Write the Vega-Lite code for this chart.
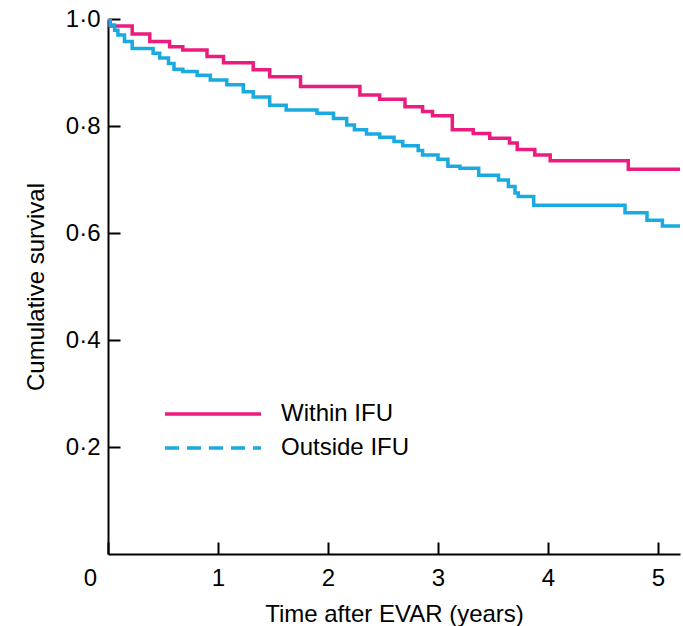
{
  "$schema": "https://vega.github.io/schema/vega-lite/v6.json",
  "width": 572,
  "height": 535,
  "autosize": {"type": "none"},
  "padding": {"left": 108, "top": 19, "right": 3, "bottom": 72},
  "background": "white",
  "config": {
    "view": {"stroke": null},
    "font": "Liberation Sans"
  },
  "data": {
    "values": [
      {"group": "Within IFU", "t": 0, "s": 1.0},
      {"group": "Within IFU", "t": 0.02, "s": 0.987},
      {"group": "Within IFU", "t": 0.22, "s": 0.972},
      {"group": "Within IFU", "t": 0.38, "s": 0.958},
      {"group": "Within IFU", "t": 0.56, "s": 0.948},
      {"group": "Within IFU", "t": 0.68, "s": 0.942},
      {"group": "Within IFU", "t": 0.9, "s": 0.93},
      {"group": "Within IFU", "t": 1.05, "s": 0.918},
      {"group": "Within IFU", "t": 1.32, "s": 0.905},
      {"group": "Within IFU", "t": 1.47, "s": 0.892},
      {"group": "Within IFU", "t": 1.75, "s": 0.874},
      {"group": "Within IFU", "t": 2.29, "s": 0.858},
      {"group": "Within IFU", "t": 2.47, "s": 0.85},
      {"group": "Within IFU", "t": 2.7, "s": 0.836},
      {"group": "Within IFU", "t": 2.86, "s": 0.827},
      {"group": "Within IFU", "t": 2.95, "s": 0.819},
      {"group": "Within IFU", "t": 3.13, "s": 0.793},
      {"group": "Within IFU", "t": 3.32, "s": 0.786},
      {"group": "Within IFU", "t": 3.47, "s": 0.777},
      {"group": "Within IFU", "t": 3.65, "s": 0.768},
      {"group": "Within IFU", "t": 3.72, "s": 0.756},
      {"group": "Within IFU", "t": 3.88, "s": 0.746},
      {"group": "Within IFU", "t": 4.02, "s": 0.735},
      {"group": "Within IFU", "t": 4.73, "s": 0.719},
      {"group": "Within IFU", "t": 5.2, "s": 0.719},
      {"group": "Outside IFU", "t": 0, "s": 1.0},
      {"group": "Outside IFU", "t": 0.02, "s": 0.989},
      {"group": "Outside IFU", "t": 0.06, "s": 0.979},
      {"group": "Outside IFU", "t": 0.09, "s": 0.97},
      {"group": "Outside IFU", "t": 0.15, "s": 0.958},
      {"group": "Outside IFU", "t": 0.22, "s": 0.945},
      {"group": "Outside IFU", "t": 0.41, "s": 0.936},
      {"group": "Outside IFU", "t": 0.47, "s": 0.927},
      {"group": "Outside IFU", "t": 0.55, "s": 0.917},
      {"group": "Outside IFU", "t": 0.6, "s": 0.906},
      {"group": "Outside IFU", "t": 0.68, "s": 0.902},
      {"group": "Outside IFU", "t": 0.81, "s": 0.895},
      {"group": "Outside IFU", "t": 0.93, "s": 0.886},
      {"group": "Outside IFU", "t": 1.08, "s": 0.877},
      {"group": "Outside IFU", "t": 1.23, "s": 0.864},
      {"group": "Outside IFU", "t": 1.32, "s": 0.854},
      {"group": "Outside IFU", "t": 1.47, "s": 0.839},
      {"group": "Outside IFU", "t": 1.62, "s": 0.83},
      {"group": "Outside IFU", "t": 1.9, "s": 0.824},
      {"group": "Outside IFU", "t": 2.05, "s": 0.814},
      {"group": "Outside IFU", "t": 2.17, "s": 0.802},
      {"group": "Outside IFU", "t": 2.24, "s": 0.793},
      {"group": "Outside IFU", "t": 2.35, "s": 0.785},
      {"group": "Outside IFU", "t": 2.47, "s": 0.779},
      {"group": "Outside IFU", "t": 2.6, "s": 0.771},
      {"group": "Outside IFU", "t": 2.68, "s": 0.763},
      {"group": "Outside IFU", "t": 2.82, "s": 0.754},
      {"group": "Outside IFU", "t": 2.86, "s": 0.746},
      {"group": "Outside IFU", "t": 3.0, "s": 0.738},
      {"group": "Outside IFU", "t": 3.09, "s": 0.725},
      {"group": "Outside IFU", "t": 3.2, "s": 0.721},
      {"group": "Outside IFU", "t": 3.37, "s": 0.708},
      {"group": "Outside IFU", "t": 3.55, "s": 0.699},
      {"group": "Outside IFU", "t": 3.64, "s": 0.687},
      {"group": "Outside IFU", "t": 3.7, "s": 0.675},
      {"group": "Outside IFU", "t": 3.73, "s": 0.668},
      {"group": "Outside IFU", "t": 3.87, "s": 0.652},
      {"group": "Outside IFU", "t": 4.7, "s": 0.638},
      {"group": "Outside IFU", "t": 4.9, "s": 0.624},
      {"group": "Outside IFU", "t": 5.04, "s": 0.613},
      {"group": "Outside IFU", "t": 5.2, "s": 0.613}
    ]
  },
  "mark": {"type": "line", "interpolate": "step-after", "strokeWidth": 3.5, "clip": true},
  "encoding": {
    "x": {
      "field": "t",
      "type": "quantitative",
      "scale": {"domain": [0, 5.2], "nice": false, "zero": false},
      "axis": {
        "title": "Time after EVAR (years)",
        "values": [0, 1, 2, 3, 4, 5],
        "grid": false,
        "domainColor": "black",
        "domainWidth": 2,
        "tickColor": "black",
        "tickWidth": 2,
        "tickSize": -12,
        "labelFontSize": 24,
        "labelColor": "black",
        "labelPadding": 24,
        "labelOffset": {"condition": {"test": "datum.value == 0", "value": -18}, "value": 0},
        "labelFlush": false,
        "titleFontSize": 24,
        "titleFontWeight": "normal",
        "titleColor": "black",
        "titlePadding": 12
      }
    },
    "y": {
      "field": "s",
      "type": "quantitative",
      "scale": {"domain": [0, 1], "nice": false},
      "axis": {
        "title": "Cumulative survival",
        "values": [0.2, 0.4, 0.6, 0.8, 1.0],
        "labelExpr": "replace(format(datum.value, '.1f'), '.', '·')",
        "grid": false,
        "domainColor": "black",
        "domainWidth": 2,
        "tickColor": "black",
        "tickWidth": 2,
        "tickSize": -12,
        "labelFontSize": 24,
        "labelColor": "black",
        "labelPadding": 20,
        "labelFlush": false,
        "titleFontSize": 24,
        "titleFontWeight": "normal",
        "titleColor": "black",
        "titlePadding": 17
      }
    },
    "color": {
      "field": "group",
      "type": "nominal",
      "scale": {"domain": ["Within IFU", "Outside IFU"], "range": ["#EC1C7E", "#1AAADF"]},
      "legend": {
        "title": null,
        "orient": "none",
        "legendX": 91,
        "legendY": 381,
        "symbolType": "M-4,0H4",
        "symbolSize": 576,
        "symbolStrokeWidth": 3.5,
        "labelFontSize": 24,
        "labelColor": "black",
        "labelOffset": 54,
        "rowPadding": 8,
        "encode": {
          "symbols": {
            "update": {
              "strokeDash": {"signal": "datum.value === 'Outside IFU' ? [14, 8] : [1, 0]"}
            }
          }
        }
      }
    }
  }
}
